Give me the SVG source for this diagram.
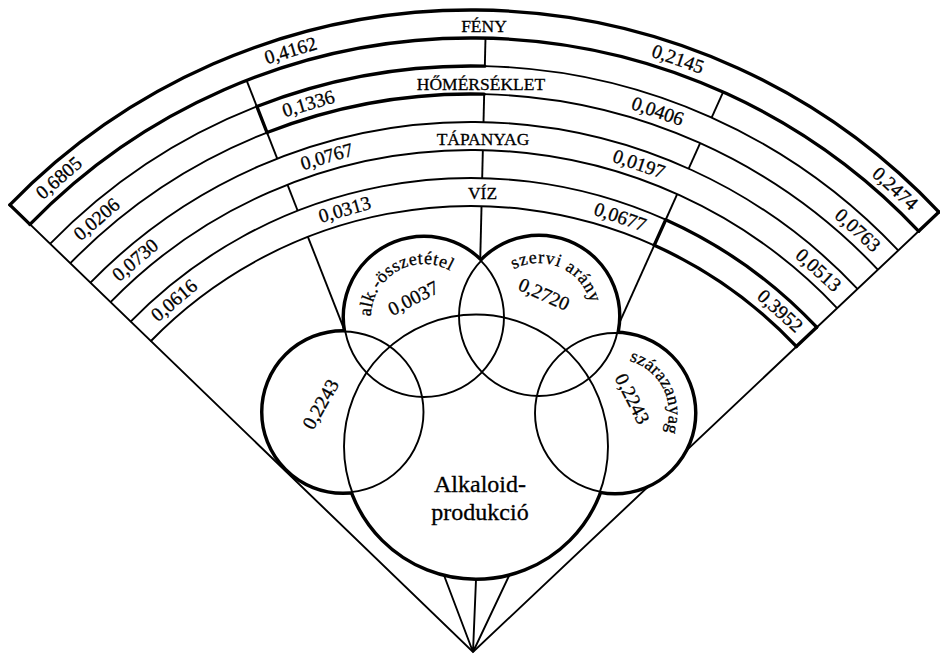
<svg xmlns="http://www.w3.org/2000/svg" width="940" height="654" viewBox="0 0 940 654">
<style>
.thin{fill:none;stroke:#000;stroke-width:1.9}
.thick{fill:none;stroke:#000;stroke-width:3.3;stroke-linecap:round}
.under{fill:none;stroke:#000;stroke-width:5}
.blank{fill:#fff;stroke:none}
text{font-family:"Liberation Serif","Times New Roman",serif;fill:#000;stroke:#000;stroke-width:0.3}
.num{font-size:19.5px;text-anchor:middle}
.lab{font-size:17.5px;text-anchor:middle}
.cur{font-size:18px;text-anchor:middle}
.big{font-size:24px;text-anchor:middle}
</style>
<defs>
<path id="pAlk" d="M 371.81 326.20 A 53 53 0 0 1 458.07 276.40"/>
<path id="pSzervi" d="M 500.56 279.52 A 53 53 0 0 1 591.90 319.24"/>
<path id="pSzaraz" d="M 608.42 359.40 A 54 54 0 0 1 654.49 449.83"/>
</defs>
<rect width="940" height="654" fill="#fff"/>

<g id="connectors">
<path class="thick" d="M 9.87 204.88 A 643 643 0 0 1 938.96 212.02"/>
<path class="thick" d="M 29.95 224.39 A 615 615 0 0 1 918.58 231.22"/>
<path class="thin" d="M 50.03 243.91 A 587 587 0 0 1 256.81 106.46"/>
<path class="thick" d="M 256.81 106.46 A 587 587 0 0 1 484.83 66.16"/>
<path class="thin" d="M 484.83 66.16 A 587 587 0 0 1 898.21 250.42"/>
<path class="thin" d="M 70.11 263.42 A 559 559 0 0 1 267.03 132.53"/>
<path class="thick" d="M 267.03 132.53 A 559 559 0 0 1 484.17 94.16"/>
<path class="thin" d="M 484.17 94.16 A 559 559 0 0 1 877.83 269.63"/>
<path class="thin" d="M 90.19 282.94 A 531 531 0 0 1 857.45 288.83"/>
<path class="thin" d="M 110.27 302.45 A 503 503 0 0 1 837.07 308.03"/>
<path class="thin" d="M 130.35 321.96 A 475 475 0 0 1 665.72 219.74"/>
<path class="thick" d="M 665.72 219.74 A 475 475 0 0 1 816.70 327.24"/>
<path class="thin" d="M 150.43 341.48 A 447 447 0 0 1 654.24 245.28"/>
<path class="thick" d="M 654.24 245.28 A 447 447 0 0 1 796.32 346.44"/>
<path class="thin" d="M 9.87 204.88 L 473 652 L 938.96 212.02"/>
<path class="thick" d="M 9.87 204.88 L 29.95 224.39"/>
<path class="thick" d="M 938.96 212.02 L 918.58 231.22"/>
<path class="thick" d="M 816.70 327.24 L 796.32 346.44"/>
<path class="thin" d="M 246.59 80.39 L 277.24 158.60"/>
<path class="thick" d="M 256.81 106.46 L 267.03 132.53"/>
<path class="thin" d="M 287.46 184.67 L 297.68 210.74"/>
<path class="thin" d="M 307.89 236.81 L 347.7 338.3"/>
<path class="thin" d="M 485.49 38.17 L 484.83 66.16"/>
<path class="thin" d="M 484.17 94.16 L 483.51 122.15"/>
<path class="thin" d="M 482.85 150.14 L 482.19 178.13"/>
<path class="thin" d="M 481.53 206.13 L 480.1 265.1"/>
<path class="thin" d="M 723.11 92.04 L 711.63 117.58"/>
<path class="thin" d="M 700.15 143.12 L 688.67 168.66"/>
<path class="thin" d="M 677.19 194.20 L 665.72 219.74"/>
<path class="thick" d="M 665.72 219.74 L 654.24 245.28"/>
<path class="thin" d="M 654.24 245.28 L 612.4 338.3"/>
<path class="thin" d="M 442 570 L 473 652 L 476.4 570 M 473 652 L 511.8 570"/>
</g>

<g id="bands">
<text class="lab" x="484" y="32">FÉNY</text>
<text class="lab" x="481" y="90">HŐMÉRSÉKLET</text>
<text class="lab" x="483" y="145">TÁPANYAG</text>
<text class="lab" x="482.5" y="199">VÍZ</text>
<text class="num" y="6.4" transform="translate(58.8 177.9) rotate(-40.95)">0,6805</text>
<text class="num" y="6.4" transform="translate(290.5 50.5) rotate(-16.68)">0,4162</text>
<text class="num" y="6.4" transform="translate(677.9 59.0) rotate(19.2)">0,2145</text>
<text class="num" y="6.4" transform="translate(895.1 188.5) rotate(42.4)">0,2474</text>
<text class="num" y="6.4" transform="translate(96.6 219.2) rotate(-40.8)">0,0206</text>
<text class="num" y="6.4" transform="translate(308.3 103.6) rotate(-16.5)">0,1336</text>
<text class="num" y="6.4" transform="translate(657.6 111.2) rotate(19.0)">0,0406</text>
<text class="num" y="6.4" transform="translate(857.7 230.2) rotate(42.45)">0,0763</text>
<text class="num" y="6.4" transform="translate(135.2 259.9) rotate(-40.5)">0,0730</text>
<text class="num" y="6.4" transform="translate(326.8 156.5) rotate(-16.2)">0,0767</text>
<text class="num" y="6.4" transform="translate(639.0 164.0) rotate(18.96)">0,0197</text>
<text class="num" y="6.4" transform="translate(818.3 270.0) rotate(42.2)">0,0513</text>
<text class="num" y="6.4" transform="translate(174.1 300.4) rotate(-40.1)">0,0616</text>
<text class="num" y="6.4" transform="translate(344.7 209.6) rotate(-15.9)">0,0313</text>
<text class="num" y="6.4" transform="translate(620.3 216.9) rotate(18.9)">0,0677</text>
<text class="num" y="6.4" transform="translate(780.1 310.9) rotate(42.1)">0,3952</text>
</g>

<g id="outline">
<circle class="under" cx="343" cy="412" r="80.5"/>
<circle class="under" cx="424" cy="317" r="80"/>
<circle class="under" cx="539" cy="316" r="80"/>
<circle class="under" cx="615" cy="413" r="80"/>
<circle class="under" cx="476" cy="446.5" r="132"/>
<circle class="blank" cx="343" cy="412" r="80.5"/>
<circle class="blank" cx="424" cy="317" r="80"/>
<circle class="blank" cx="539" cy="316" r="80"/>
<circle class="blank" cx="615" cy="413" r="80"/>
<circle class="blank" cx="476" cy="446.5" r="132"/>
</g>

<g id="node-left">
<circle class="thin" cx="343" cy="412" r="80.5"/>
<text class="num" y="6.4" transform="translate(320.7 404.2) rotate(-60.5)">0,2243</text>
</g>
<g id="node-alk">
<circle class="thin" cx="424" cy="317" r="80"/>
<text class="cur"><textPath href="#pAlk" startOffset="50%" textLength="110" lengthAdjust="spacing">alk.-összetétel</textPath></text>
<text class="num" y="6.4" transform="translate(413.3 298.3) rotate(-27)">0,0037</text>
</g>
<g id="node-szervi">
<circle class="thin" cx="539" cy="316" r="80"/>
<text class="cur"><textPath href="#pSzervi" startOffset="50%" textLength="96" lengthAdjust="spacing">szervi arány</textPath></text>
<text class="num" y="6.4" transform="translate(544 294.3) rotate(24)">0,2720</text>
</g>
<g id="node-szaraz">
<circle class="thin" cx="615" cy="413" r="80"/>
<text class="cur"><textPath href="#pSzaraz" startOffset="50%" textLength="90" lengthAdjust="spacing">szárazanyag</textPath></text>
<text class="num" y="6.4" transform="translate(632.2 398.8) rotate(63)">0,2243</text>
</g>
<g id="node-alkaloid">
<circle class="thin" cx="476" cy="446.5" r="132"/>
<text class="big" x="480" y="492">Alkaloid-</text>
<text class="big" x="480" y="520">produkció</text>
</g>
</svg>
